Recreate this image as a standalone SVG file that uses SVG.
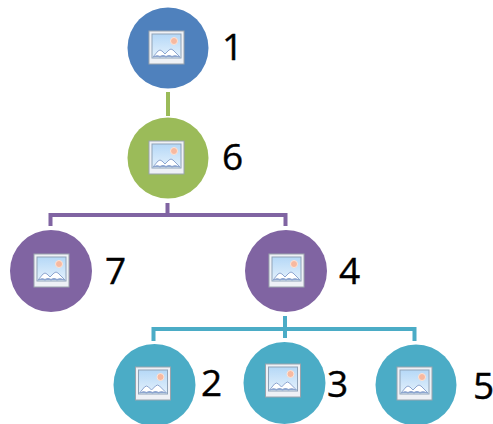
<svg xmlns="http://www.w3.org/2000/svg" width="493" height="424" viewBox="0 0 493 424">
<style>
.lbl{font-family:"Open Sans","Liberation Sans",sans-serif;font-size:37px;fill:#000;stroke:#000;stroke-width:.4}
.conn{fill:none;stroke-width:4}
</style>
<defs>
<linearGradient id="sky" x1="0" y1="0" x2="0" y2="1"><stop offset="0" stop-color="#b5d8f7"/><stop offset="1" stop-color="#e4f1fc"/></linearGradient>
<g id="pic">
<rect x="-19" y="-17" width="35" height="33" fill="#eef1f6" stroke="#9aa3ad" stroke-width="1"/>
<rect x="-16" y="-14" width="29" height="24" fill="url(#sky)" stroke="#8fa3b8" stroke-width="1"/>
<circle cx="6" cy="-7" r="3.500" fill="#f7b9a0" stroke="#fde3d6" stroke-width="1"/>
<path d="M-15 9 L-10 3 Q-8 1 -6 3 L-3 6 L1 2 Q3 0 5 2 L12 9 Q7 7 4 9 Q1 7 -2 9 Q-5 7 -8 9 Q-11 7 -15 9 Z" fill="#fff" stroke="#8da5cf" stroke-width="1"/>
<path d="M-15 9 Q-11 6 -8 8 Q-5 6 -2 8 Q1 6 4 8 Q7 6 12 9 Z" fill="#8da5cf"/>
</g>
</defs>
<g id="connectors" class="conn">
<path stroke="#9bbb59" d="M168 92V116"/>
<path stroke="#8064a2" d="M167.500 203V215M50.500 226V215H285.500V226"/>
<path stroke="#4bacc6" d="M285 316V338M153.500 341V329H414.500V341"/>
</g>
<g id="n1"><circle cx="168" cy="48" r="40.500" fill="#4f81bd"/><use href="#pic" x="168" y="48"/><text class="lbl" x="222" y="60">1</text></g>
<g id="n6"><circle cx="168" cy="158" r="40.500" fill="#9bbb59"/><use href="#pic" x="168" y="158"/><text class="lbl" x="222" y="170">6</text></g>
<g id="n7"><circle cx="51" cy="271" r="41" fill="#8064a2"/><use href="#pic" x="53" y="271"/><text class="lbl" x="105" y="284">7</text></g>
<g id="n4"><circle cx="286" cy="271" r="41" fill="#8064a2"/><use href="#pic" x="288" y="271"/><text class="lbl" x="339" y="284">4</text></g>
<g id="n2"><circle cx="154.500" cy="385" r="41" fill="#4bacc6"/><use href="#pic" x="154.500" y="384"/><text class="lbl" x="201" y="396">2</text></g>
<g id="n3"><circle cx="284.500" cy="383" r="41" fill="#4bacc6"/><use href="#pic" x="284.500" y="381"/><text class="lbl" x="327" y="397">3</text></g>
<g id="n5"><circle cx="416" cy="385" r="40.500" fill="#4bacc6"/><use href="#pic" x="416" y="384"/><text class="lbl" x="473" y="399">5</text></g>
</svg>
